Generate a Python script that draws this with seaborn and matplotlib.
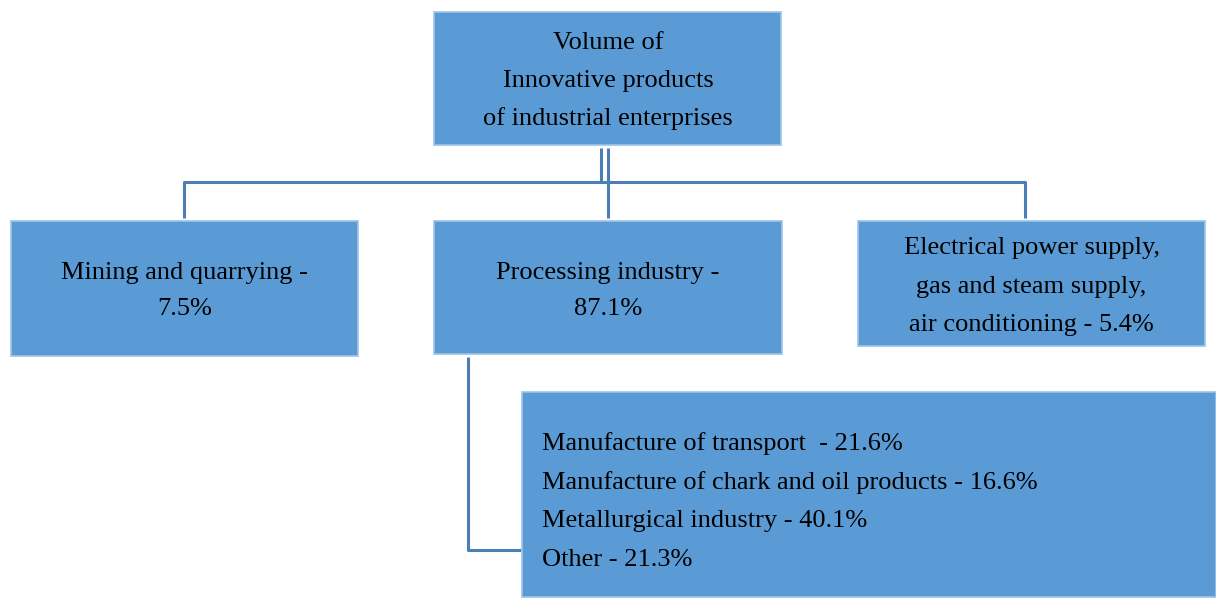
import matplotlib
matplotlib.use('Agg')
import matplotlib.pyplot as plt
from matplotlib.patches import Rectangle
import seaborn as sns

# data: text of each node
root_lines = ['Volume of', 'Innovative products', 'of industrial enterprises']
branch_names = ['Mining and quarrying', 'Processing industry', 'Electrical power supply,\ngas and steam supply,\nair conditioning']
branch_shares = [7.5, 87.1, 5.4]
sub_names = ['Manufacture of transport ', 'Manufacture of chark and oil products', 'Metallurgical industry', 'Other']
sub_shares = [21.6, 16.6, 40.1, 21.3]

BOX = '#5B9BD5'
EDGE = '#9DC3E6'
LINE = '#4A7EB5'

sns.set_style('white')
plt.rcParams['font.family'] = ['Liberation Serif', 'DejaVu Serif']
plt.rcParams['text.color'] = 'black'

fig = plt.figure(figsize=(12.16, 5.98), dpi=100)
ax = fig.add_axes([0, 0, 1, 1])
ax.set_xlim(0, 1216)
ax.set_ylim(598, 0)
ax.axis('off')

FS = 19
DY = 3  # va='center' includes descenders, nudge baseline down a bit


def box(x0, y0, x1, y1):
    ax.add_patch(Rectangle((x0, y0), x1 - x0, y1 - y0, facecolor=BOX,
                           edgecolor=EDGE, lw=1.2, zorder=2))


def line(xs, ys):
    ax.plot(xs, ys, color=LINE, lw=2.2, solid_capstyle='butt', zorder=1)


def label(x, y, t, ha='center'):
    ax.text(x, y + DY, t, ha=ha, va='center', fontsize=FS, zorder=3)


# root
box(434, 12, 781, 145)
for i, t in enumerate(root_lines):
    label(608, 40 + i * 38, t)

# connectors
line([601, 601, 184, 184], [148, 182, 182, 218])
line([601, 1025, 1025], [182, 182, 218])
line([608, 608], [148, 218])

# branches
branch_boxes = [(11, 221, 358, 356), (434, 221, 782, 354), (858, 221, 1205, 346)]
for (x0, y0, x1, y1), name, share in zip(branch_boxes, branch_names, branch_shares):
    box(x0, y0, x1, y1)
    if '\n' in name:
        lines = name.split('\n')
        lines[-1] = lines[-1] + ' - ' + str(share) + '%'
        ys = [245, 284, 322]
    else:
        lines = [name + ' -', str(share) + '%']
        ys = [270, 306]
    for t, y in zip(lines, ys):
        label((x0 + x1) / 2, y, t)

# sub-breakdown of processing industry
line([468, 468, 521], [357, 550, 550])
box(522, 392, 1216, 597)
for i, (n, s) in enumerate(zip(sub_names, sub_shares)):
    label(542, 441 + i * 38.5, n + ' - ' + str(s) + '%', ha='left')

fig.savefig('out.png', dpi=100)
